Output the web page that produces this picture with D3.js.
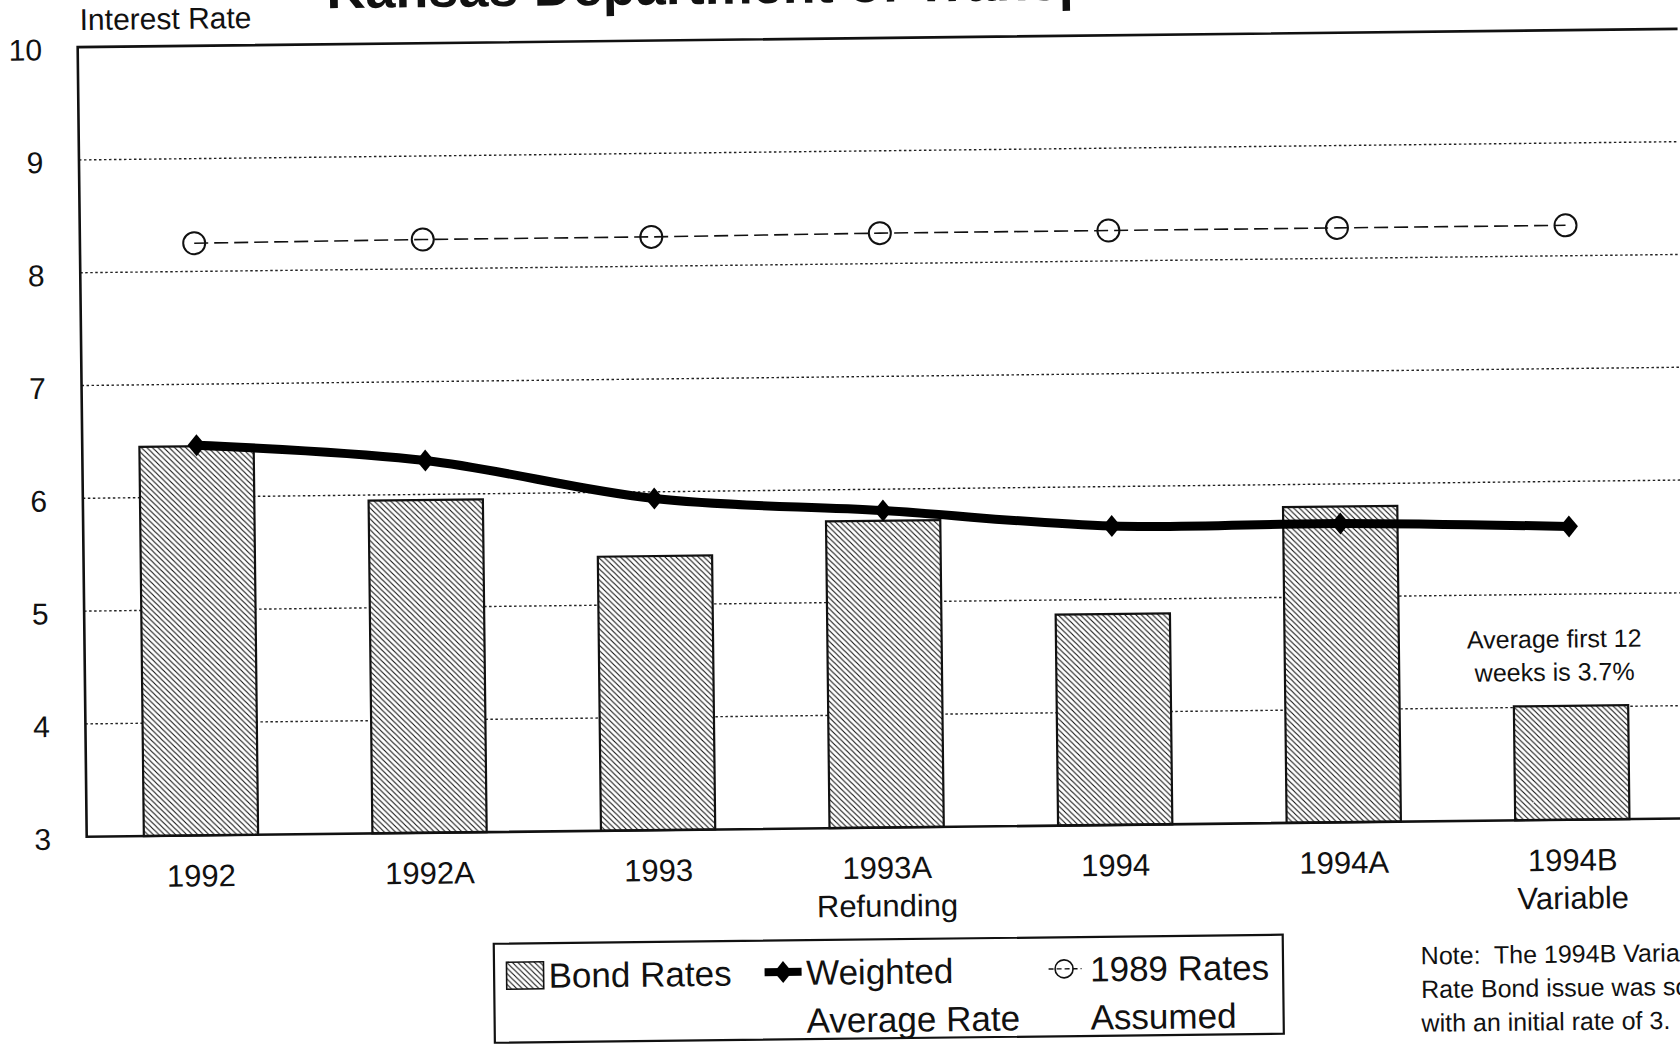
<!DOCTYPE html>
<html>
<head>
<meta charset="utf-8">
<script src="https://cdn.jsdelivr.net/npm/d3@7"></script>
<style>
  html, body { margin: 0; padding: 0; background: #fff; overflow: hidden; }
  svg { display: block; font-family: "Liberation Sans", Arial, Helvetica, sans-serif; }
  text { fill: #111; }
</style>
</head>
<body>
<svg id="chart" width="1680" height="1052"></svg>
<script>
// ---- data ----
const categories = ["1992", "1992A", "1993", "1993A", "1994", "1994A", "1994B"];
const subLabels = ["", "", "", "Refunding", "", "", "Variable"];
const bondRates = [6.45, 5.95, 5.43, 5.72, 4.87, 5.80, 4.01];
const weightedAverage = [6.46, 6.30, 5.94, 5.81, 5.65, 5.65, 5.60];
const rates1989 = [8.25, 8.26, 8.26, 8.27, 8.27, 8.27, 8.27];
const yTicks = [3, 4, 5, 6, 7, 8, 9, 10];
const titleText = "Kansas Department of Transportation";
const yAxisTitle = "Interest Rate";
const annotationLines = ["Average first 12", "weeks is 3.7%"];
const noteLines = ["Note:  The 1994B Variable", "Rate Bond issue was sold", "with an initial rate of 3."];
const legendLabels = [["Bond Rates"], ["Weighted", "Average Rate"], ["1989 Rates", "Assumed"]];

// ---- layout ----
const X0 = 86.7, Y0 = 836.7, W = 1600, UNIT = 112.8;
const svg = d3.select("#chart");
const defs = svg.append("defs");
const HS = 5.5;
const pat = defs.append("pattern").attr("id", "hatch")
  .attr("patternUnits", "userSpaceOnUse").attr("width", HS).attr("height", HS);
pat.append("rect").attr("width", HS).attr("height", HS).attr("fill", "#fff");
pat.append("path").attr("d", `M-1,-1 L${HS + 1},${HS + 1} M-1,${HS - 1} L1,${HS + 1} M${HS - 1},-1 L${HS + 1},1`)
  .attr("stroke", "#111").attr("stroke-width", 1.1);

const root = svg.append("g").attr("transform", `rotate(-0.655, ${X0}, ${Y0})`);

const x = d3.scaleBand().domain(categories).range([X0, X0 + W]).paddingInner(0.5).paddingOuter(0.25);
const y = d3.scaleLinear().domain([3, 10]).range([Y0, Y0 - 7 * UNIT]);

// title (mostly cut off at top)
root.append("text").attr("x", 336).attr("y", 11).attr("font-size", 54).attr("font-weight", "bold")
  .text(titleText);

// y axis title
root.append("text").attr("x", 89).attr("y", 30).attr("font-size", 30).text(yAxisTitle);

// gridlines
root.append("g").selectAll("line").data(yTicks.filter(t => t > 3 && t < 10)).join("line")
  .attr("x1", X0).attr("x2", X0 + W)
  .attr("y1", d => y(d)).attr("y2", d => y(d))
  .attr("stroke", "#222").attr("stroke-width", 1.4).attr("stroke-dasharray", "2.5,2.5");

// y tick labels
root.append("g").selectAll("text").data(yTicks).join("text")
  .attr("x", 51).attr("y", d => y(d) + 2).attr("dy", "0.36em")
  .attr("text-anchor", "end").attr("font-size", 30).text(d => d);

// bars
root.append("g").selectAll("rect").data(bondRates).join("rect")
  .attr("x", (d, i) => x(categories[i]))
  .attr("width", x.bandwidth())
  .attr("y", d => y(d))
  .attr("height", d => y(3) - y(d))
  .attr("fill", "url(#hatch)").attr("stroke", "#111").attr("stroke-width", 2.2);

// plot frame
root.append("path")
  .attr("d", `M${X0 + W},${y(10)} L${X0},${y(10)} L${X0},${y(3)} L${X0 + W},${y(3)}`)
  .attr("fill", "none").attr("stroke", "#111").attr("stroke-width", 2.6);

// 1989 rates line
const cx = c => x(c) + x.bandwidth() / 2;
root.append("path")
  .datum(rates1989)
  .attr("d", d3.line().x((d, i) => cx(categories[i])).y(d => y(d)))
  .attr("fill", "none").attr("stroke", "#111").attr("stroke-width", 1.6)
  .attr("stroke-dasharray", "14,6");
root.append("g").selectAll("circle").data(rates1989).join("circle")
  .attr("cx", (d, i) => cx(categories[i])).attr("cy", d => y(d)).attr("r", 11)
  .attr("fill", "none").attr("stroke", "#111").attr("stroke-width", 2);

// weighted average line
root.append("path")
  .datum(weightedAverage)
  .attr("d", d3.line().x((d, i) => cx(categories[i])).y(d => y(d)).curve(d3.curveCatmullRom))
  .attr("fill", "none").attr("stroke", "#000").attr("stroke-width", 9);
const diamond = (px, py, hw, hh) => `M${px},${py - hh} L${px + hw},${py} L${px},${py + hh} L${px - hw},${py} Z`;
root.append("g").selectAll("path").data(weightedAverage).join("path")
  .attr("d", (d, i) => diamond(cx(categories[i]), y(d), 9, 11))
  .attr("fill", "#000");

// x labels
const xl = root.append("g").selectAll("g").data(categories).join("g")
  .attr("transform", d => `translate(${cx(d)},${Y0})`);
xl.append("text").attr("y", 51).attr("text-anchor", "middle").attr("font-size", 31).text(d => d);
xl.append("text").attr("y", 89).attr("text-anchor", "middle").attr("font-size", 31)
  .text((d, i) => subLabels[i]);

// annotation above the 1994B bar
const annX = cx(categories[6]) - 16;
root.append("g").selectAll("text").data(annotationLines).join("text")
  .attr("x", annX).attr("y", (d, i) => y(4) - 59.5 + i * 33.2)
  .attr("text-anchor", "middle").attr("font-size", 25).text(d => d);

// legend
const lg = root.append("g");
lg.append("rect").attr("x", 492.5).attr("y", 948.4).attr("width", 789).attr("height", 99)
  .attr("fill", "#fff").attr("stroke", "#111").attr("stroke-width", 2.2);
lg.append("rect").attr("x", 505).attr("y", 967).attr("width", 37).attr("height", 27)
  .attr("fill", "url(#hatch)").attr("stroke", "#111").attr("stroke-width", 1.6);
lg.append("text").attr("x", 547).attr("y", 993).attr("font-size", 35).text(legendLabels[0][0]);
lg.append("line").attr("x1", 763).attr("x2", 800).attr("y1", 980).attr("y2", 980)
  .attr("stroke", "#000").attr("stroke-width", 8);
lg.append("path").attr("d", diamond(781.5, 980, 9, 11)).attr("fill", "#000");
lg.selectAll("text.w").data(legendLabels[1]).join("text").attr("class", "w")
  .attr("x", 804.5).attr("y", (d, i) => 993 + i * 48).attr("font-size", 35).text(d => d);
lg.append("line").attr("x1", 1047).attr("x2", 1080).attr("y1", 980).attr("y2", 980)
  .attr("stroke", "#111").attr("stroke-width", 1.4).attr("stroke-dasharray", "5,3");
lg.append("circle").attr("cx", 1062.5).attr("cy", 980).attr("r", 9)
  .attr("fill", "none").attr("stroke", "#111").attr("stroke-width", 1.6);
lg.selectAll("text.r").data(legendLabels[2]).join("text").attr("class", "r")
  .attr("x", 1088.5).attr("y", (d, i) => 993 + i * 48).attr("font-size", 35).text(d => d);

// note (runs off the right edge, as in the reference)
root.append("g").selectAll("text").data(noteLines).join("text")
  .attr("x", 1419.3).attr("y", (d, i) => 979.6 + i * 33.7)
  .attr("font-size", 25).style("white-space", "pre").text(d => d);
</script>
</body>
</html>
